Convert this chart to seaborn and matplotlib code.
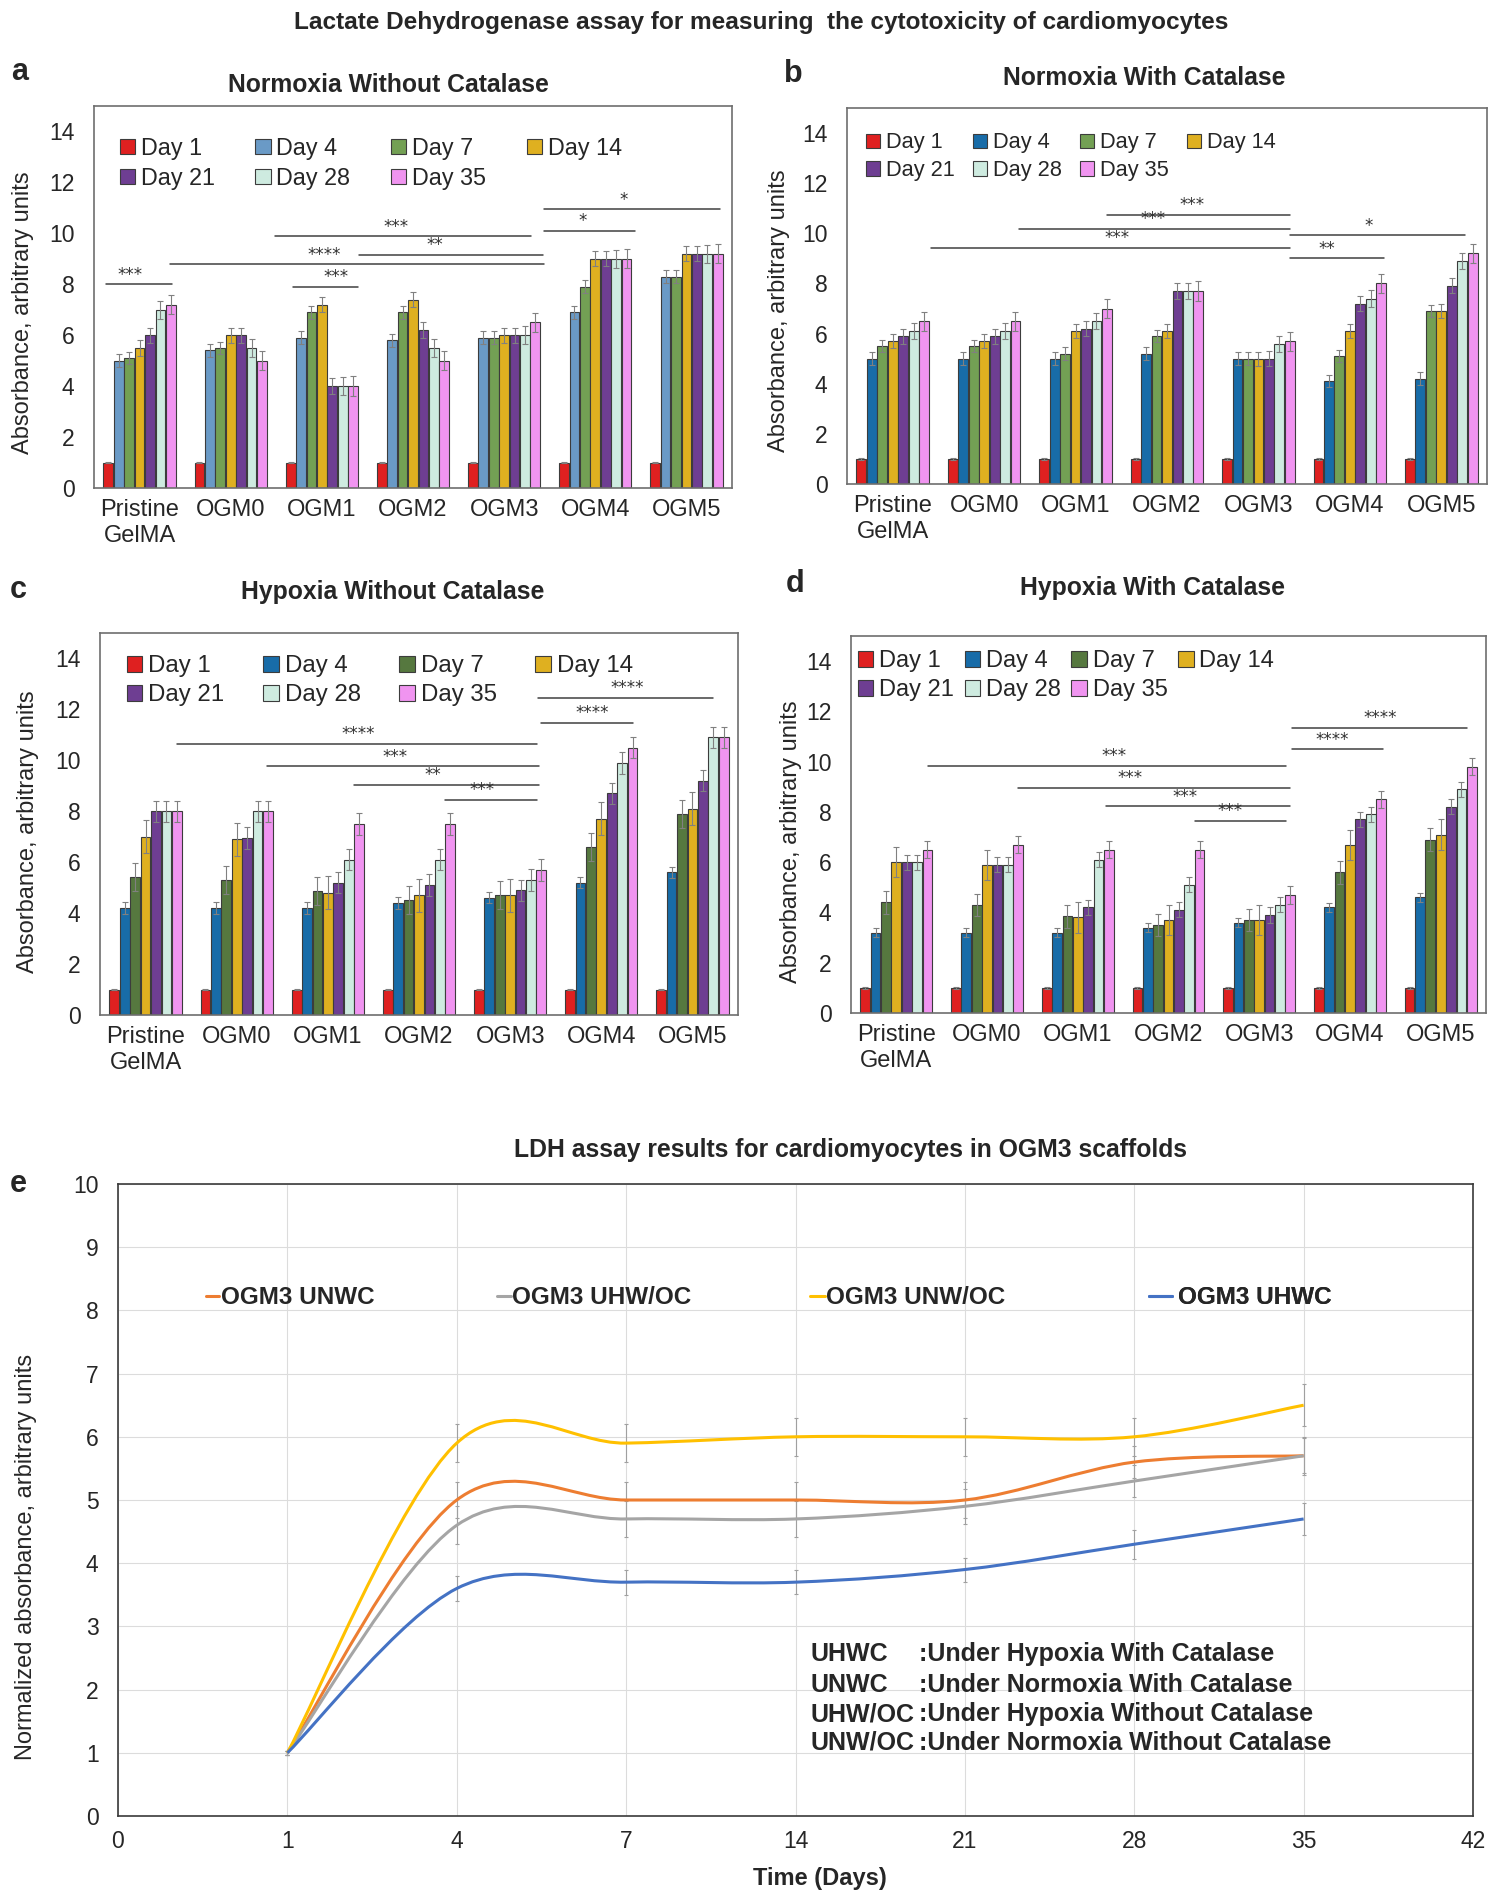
import numpy as np
import pandas as pd
import matplotlib
matplotlib.use("Agg")
import matplotlib.pyplot as plt
import seaborn as sns
from matplotlib.path import Path
from matplotlib.patches import PathPatch
from matplotlib.lines import Line2D

# -----------------------------
# Data: bar panels a-d
# -----------------------------
groups = ["Pristine\nGelMA", "OGM0", "OGM1", "OGM2", "OGM3", "OGM4", "OGM5"]
days = ["Day 1", "Day 4", "Day 7", "Day 14", "Day 21", "Day 28", "Day 35"]

# one row per group, one value per day
a_vals = [
    [1.0, 5.0, 5.1, 5.5, 6.0, 7.0, 7.2],
    [1.0, 5.4, 5.5, 6.0, 6.0, 5.5, 5.0],
    [1.0, 5.9, 6.9, 7.2, 4.0, 4.0, 4.0],
    [1.0, 5.8, 6.9, 7.4, 6.2, 5.5, 5.0],
    [1.0, 5.9, 5.9, 6.0, 6.0, 6.0, 6.5],
    [1.0, 6.9, 7.9, 9.0, 9.0, 9.0, 9.0],
    [1.0, 8.3, 8.3, 9.2, 9.2, 9.2, 9.2],
]
b_vals = [
    [1.0, 5.0, 5.5, 5.7, 5.9, 6.1, 6.5],
    [1.0, 5.0, 5.5, 5.7, 5.9, 6.1, 6.5],
    [1.0, 5.0, 5.2, 6.1, 6.2, 6.5, 7.0],
    [1.0, 5.2, 5.9, 6.1, 7.7, 7.7, 7.7],
    [1.0, 5.0, 5.0, 5.0, 5.0, 5.6, 5.7],
    [1.0, 4.1, 5.1, 6.1, 7.2, 7.4, 8.0],
    [1.0, 4.2, 6.9, 6.9, 7.9, 8.9, 9.2],
]
c_vals = [
    [1.0, 4.2, 5.4, 7.0, 8.0, 8.0, 8.0],
    [1.0, 4.2, 5.3, 6.9, 6.95, 8.0, 8.0],
    [1.0, 4.2, 4.85, 4.8, 5.2, 6.1, 7.5],
    [1.0, 4.4, 4.5, 4.7, 5.1, 6.1, 7.5],
    [1.0, 4.6, 4.7, 4.7, 4.9, 5.3, 5.7],
    [1.0, 5.2, 6.6, 7.7, 8.7, 9.9, 10.5],
    [1.0, 5.6, 7.9, 8.1, 9.2, 10.9, 10.9],
]
d_vals = [
    [1.0, 3.2, 4.4, 6.0, 6.0, 6.0, 6.5],
    [1.0, 3.2, 4.3, 5.9, 5.9, 5.9, 6.7],
    [1.0, 3.2, 3.85, 3.8, 4.2, 6.1, 6.5],
    [1.0, 3.4, 3.5, 3.7, 4.1, 5.1, 6.5],
    [1.0, 3.6, 3.7, 3.7, 3.9, 4.3, 4.7],
    [1.0, 4.2, 5.6, 6.7, 7.7, 7.9, 8.5],
    [1.0, 4.6, 6.9, 7.1, 8.2, 8.9, 9.8],
]

# error bar half-widths per day
a_err = [0.03, 0.25, 0.25, 0.3, 0.3, 0.35, 0.38]
b_err = [0.03, 0.25, 0.25, 0.28, 0.3, 0.32, 0.38]
c_err = [0.03, 0.22, 0.55, 0.65, 0.42, 0.42, 0.42]
d_err = [0.03, 0.18, 0.45, 0.6, 0.3, 0.3, 0.35]

a_colors = ["#FF0000", "#5B9BD5", "#70AD47", "#FFC000", "#7030A0", "#C9F0E1", "#FF85FF"]
b_colors = ["#FF0000", "#0070C0", "#70AD47", "#FFC000", "#7030A0", "#C9F0E1", "#FF85FF"]
c_colors = ["#FF0000", "#0070C0", "#548235", "#FFC000", "#7030A0", "#C9F0E1", "#FF85FF"]

# significance brackets: (x start, x end, y, stars, stars x)
a_sig = [(-0.37, 0.36, 8.0, "***", -0.11), (0.33, 4.44, 8.78, "****", 2.03),
         (1.68, 2.40, 7.9, "***", 2.15), (1.49, 4.29, 9.88, "***", 2.81),
         (2.41, 4.43, 9.16, "**", 3.24), (4.44, 5.44, 10.1, "*", 4.86),
         (4.44, 6.37, 10.94, "*", 5.31)]
b_sig = [(0.42, 4.34, 9.43, "***", 2.45), (1.38, 4.34, 10.19, "***", 2.85),
         (2.34, 4.34, 10.75, "***", 3.27), (4.35, 6.26, 9.92, "*", 5.2),
         (4.35, 5.37, 9.0, "**", 4.75)]
c_sig = [(0.34, 4.29, 10.64, "****", 2.33), (1.33, 4.32, 9.76, "***", 2.74),
         (2.29, 4.32, 9.04, "**", 3.15), (3.28, 4.29, 8.45, "***", 3.69),
         (4.34, 5.35, 11.47, "****", 4.9), (4.31, 6.23, 12.44, "****", 5.28)]
d_sig = [(0.35, 4.30, 9.83, "***", 2.4), (1.34, 4.34, 8.95, "***", 2.58),
         (2.31, 4.34, 8.22, "***", 3.18), (3.29, 4.30, 7.64, "***", 3.68),
         (4.36, 5.37, 10.49, "****", 4.81), (4.36, 6.29, 11.35, "****", 5.33)]

# -----------------------------
# Data: line panel e
# -----------------------------
e_ticks = [0, 1, 4, 7, 14, 21, 28, 35, 42]
e_days = [1, 4, 7, 14, 21, 28, 35]
unwc = [1.0, 5.0, 5.0, 5.0, 5.0, 5.6, 5.7]
uhwoc = [1.0, 4.6, 4.7, 4.7, 4.9, 5.3, 5.7]
unwoc = [1.0, 5.9, 5.9, 6.0, 6.0, 6.0, 6.5]
uhwc = [1.0, 3.6, 3.7, 3.7, 3.9, 4.3, 4.7]
unwc_err = [0.03, 0.28, 0.28, 0.28, 0.28, 0.25, 0.3]
uhwoc_err = [0.03, 0.3, 0.28, 0.28, 0.28, 0.25, 0.28]
unwoc_err = [0.03, 0.3, 0.3, 0.3, 0.3, 0.3, 0.33]
uhwc_err = [0.03, 0.2, 0.2, 0.19, 0.19, 0.23, 0.25]

sns.set_style("white")
plt.rcParams['font.family'] = ['Liberation Sans', 'DejaVu Sans']

W, H = 1500, 1904
fig = plt.figure(figsize=(15, 19.04), dpi=100)


def box(l, t, r, b):
    return [l / W, 1 - b / H, (r - l) / W, (b - t) / H]


def ftext(x, y, s, **kw):
    fig.text(x / W, 1 - y / H, s, ha="center", va="center", **kw)


def bar_panel(ax, vals, errs, colors, sig, ylab_xy, leg_xy, leg_fs, colspace):
    rows = []
    for g, row in zip(groups, vals):
        for d, v in zip(days, row):
            rows.append({"group": g, "day": d, "value": v})
    df = pd.DataFrame(rows)
    sns.barplot(data=df, x="group", y="value", hue="day", order=groups,
                hue_order=days, palette=colors, edgecolor="#3c3c3c",
                linewidth=0.8, errorbar=None, width=0.8, gap=0.06, ax=ax)
    # error bars on top of the bars seaborn drew
    for cont, e in zip(ax.containers, errs):
        xs = [p.get_x() + p.get_width() / 2 for p in cont]
        ys = [p.get_height() for p in cont]
        ax.errorbar(xs, ys, yerr=e, fmt="none", ecolor="#808080",
                    elinewidth=0.8, capsize=2, capthick=0.8)
    for x0, x1, y, s, sx in sig:
        ax.plot([x0, x1], [y, y], color="#404040", lw=1.1)
        ax.text(sx, y + 0.03, s, ha="center", va="bottom", fontsize=12,
                color="#303030", family="DejaVu Sans")
    ax.set_ylim(0, 15)
    ax.set_xlim(-0.5, 6.5)
    ax.set_yticks(range(0, 15, 2))
    ax.tick_params(axis="y", labelsize=16.5, pad=14, length=0)
    ax.tick_params(axis="x", labelsize=17, pad=8, length=0)
    ax.set_xlabel("")
    ax.set_ylabel("Absorbance, arbitrary units", fontsize=17)
    ax.yaxis.set_label_coords(*ylab_xy)
    for sp in ax.spines.values():
        sp.set_color("#6e6e6e")
        sp.set_linewidth(1.2)
    h, l = ax.get_legend_handles_labels()
    order = [0, 4, 1, 5, 2, 6, 3]
    ax.legend([h[i] for i in order], [l[i] for i in order], ncol=4,
              loc="upper left", bbox_to_anchor=leg_xy, frameon=False,
              fontsize=leg_fs, handlelength=0.65, handleheight=0.65,
              handletextpad=0.25, columnspacing=colspace, labelspacing=0.3,
              borderpad=0, borderaxespad=0)


ax_a = fig.add_axes(box(94, 106, 732, 488))
ax_b = fig.add_axes(box(847, 108, 1487, 484))
ax_c = fig.add_axes(box(100, 633, 738, 1015))
ax_d = fig.add_axes(box(851, 636, 1486, 1013))

bar_panel(ax_a, a_vals, a_err, a_colors, a_sig, (-0.094, 0.46), (0.04, 0.92), 16.8, 1.75)
bar_panel(ax_b, b_vals, b_err, b_colors, b_sig, (-0.089, 0.46), (0.03, 0.935), 15.7, 0.85)
bar_panel(ax_c, c_vals, c_err, c_colors, c_sig, (-0.096, 0.48), (0.042, 0.942), 17.3, 1.6)
bar_panel(ax_d, d_vals, d_err, c_colors, d_sig, (-0.077, 0.454), (0.011, 0.963), 17.0, 0.45)

ftext(761, 22, "Lactate Dehydrogenase assay for measuring  the cytotoxicity of cardiomyocytes",
      fontsize=17.6, fontweight="bold")
ftext(388, 85, "Normoxia Without Catalase", fontsize=17.8, fontweight="bold")
ftext(1144, 78, "Normoxia With Catalase", fontsize=17.8, fontweight="bold")
ftext(393, 592, "Hypoxia Without Catalase", fontsize=17.8, fontweight="bold")
ftext(1153, 588, "Hypoxia With Catalase", fontsize=17.8, fontweight="bold")
for s, x, y in [("a", 20, 72), ("b", 793, 74), ("c", 18, 590), ("d", 795, 584), ("e", 18, 1184)]:
    ftext(x, y, s, fontsize=22, fontweight="bold")

# -----------------------------
# Panel e: smoothed lines
# -----------------------------
ax_e = fig.add_axes(box(118, 1184, 1473, 1816))
pos = [e_ticks.index(d) for d in e_days]


def smooth_path(xs, ys):
    pts = np.column_stack([xs, ys]).astype(float)
    n = len(pts)
    verts = [pts[0]]
    codes = [Path.MOVETO]
    for i in range(n - 1):
        p0 = pts[i - 1] if i > 0 else pts[i]
        p1, p2 = pts[i], pts[i + 1]
        p3 = pts[i + 2] if i + 2 < n else pts[i + 1]
        verts += [p1 + (p2 - p0) / 6, p2 - (p3 - p1) / 6, p2]
        codes += [Path.CURVE4] * 3
    return Path(verts, codes)


series = [
    ("OGM3 UNWC", unwc, unwc_err, "#ED7D31"),
    ("OGM3 UHW/OC", uhwoc, uhwoc_err, "#A5A5A5"),
    ("OGM3 UNW/OC", unwoc, unwoc_err, "#FFC000"),
    ("OGM3 UHWC", uhwc, uhwc_err, "#4472C4"),
]
for name, vals, err, col in series:
    ax_e.errorbar(pos, vals, yerr=err, fmt="none", ecolor="#a0a0a0",
                  elinewidth=0.8, capsize=1.5, capthick=0.8, zorder=2)
    ax_e.add_patch(PathPatch(smooth_path(pos, vals), fill=False,
                             edgecolor=col, lw=2.2, zorder=3))

ax_e.set_xlim(0, len(e_ticks) - 1)
ax_e.set_ylim(0, 10)
ax_e.set_xticks(range(len(e_ticks)))
ax_e.set_xticklabels([str(t) for t in e_ticks])
ax_e.set_yticks(range(0, 11))
ax_e.grid(True, color="#dcdcdc", lw=0.8)
ax_e.tick_params(axis="both", labelsize=16.5, length=0)
ax_e.tick_params(axis="y", pad=14)
ax_e.tick_params(axis="x", pad=10)
for sp in ax_e.spines.values():
    sp.set_color("#3a3a3a")
    sp.set_linewidth(1.2)
ax_e.set_ylabel("Normalized absorbance, arbitrary units", fontsize=17)
ax_e.yaxis.set_label_coords(-0.06, 0.41)
ftext(820, 1879, "Time (Days)", fontsize=17, fontweight="bold")
ftext(851, 1150, "LDH assay results for cardiomyocytes in OGM3 scaffolds",
      fontsize=17.8, fontweight="bold")

leg_spots = [(0.065, 0.55, 0.05), (0.28, 0.55, 0.05), (0.511, 0.6, 0.05), (0.761, 0.95, 0.25)]
for (name, vals, err, col), (fx, hl, tp) in zip(series, leg_spots):
    leg = ax_e.legend([Line2D([], [], color=col, lw=2.2)], [name], loc="center left",
                      bbox_to_anchor=(fx, 0.82), frameon=False, handlelength=hl,
                      handletextpad=tp, borderpad=0, borderaxespad=0,
                      prop={"size": 17.5, "weight": "bold"})
    ax_e.add_artist(leg)

abbr = [("UHWC", ":Under Hypoxia With Catalase"),
        ("UNWC", ":Under Normoxia With Catalase"),
        ("UHW/OC", ":Under Hypoxia Without Catalase"),
        ("UNW/OC", ":Under Normoxia Without Catalase")]
for (k, v), fy in zip(abbr, [0.256, 0.207, 0.161, 0.116]):
    ax_e.text(0.511, fy, k, transform=ax_e.transAxes, fontsize=18,
              fontweight="bold", va="center", ha="left")
    ax_e.text(0.591, fy, v, transform=ax_e.transAxes, fontsize=18,
              fontweight="bold", va="center", ha="left")

fig.savefig("out.png", dpi=100)
